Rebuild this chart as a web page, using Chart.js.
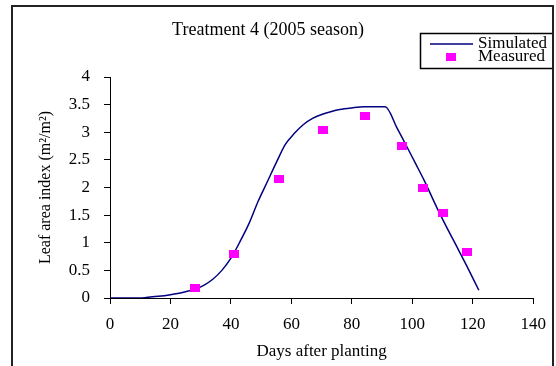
<!DOCTYPE html>
<html>
<head>
<meta charset="utf-8">
<script src="https://cdn.jsdelivr.net/npm/chart.js@4.4.1/dist/chart.umd.min.js"></script>
<style>
	html, body { margin: 0; padding: 0; background: #fff; }
	#wrap { width: 556px; height: 366px; }
</style>
</head>
<body>
<div id="wrap"><canvas id="lai-chart" width="556" height="366"></canvas></div>
<script>
// Simulated leaf area index, day after planting vs value
const simDays = [0, 10, 12, 16, 20, 24, 28, 31, 34, 37, 40, 43, 46, 49, 52, 55, 58, 61, 64, 67, 70, 73, 76, 80, 84, 91, 95, 98, 101, 104, 108, 111, 115, 118, 122];
const simLai = [0, 0, 0.01, 0.03, 0.06, 0.1, 0.16, 0.23, 0.34, 0.5, 0.72, 1.02, 1.35, 1.75, 2.1, 2.45, 2.78, 2.98, 3.14, 3.25, 3.32, 3.37, 3.41, 3.44, 3.46, 3.46, 3.07, 2.76, 2.44, 2.12, 1.65, 1.32, 0.9, 0.58, 0.14];

// Field measurements
const measDays = [28, 41, 56, 70.5, 84.5, 96.5, 103.5, 110, 118];
const measLai = [0.18, 0.8, 2.15, 3.04, 3.29, 2.75, 1.99, 1.54, 0.83];

const xTicks = [0, 20, 40, 60, 80, 100, 120, 140];
const yTicks = [0, 0.5, 1, 1.5, 2, 2.5, 3, 3.5, 4];

const titleText = 'Treatment 4 (2005 season)';
const xTitle = 'Days after planting';
const yTitle = 'Leaf area index (m\u00b2/m\u00b2)';
const legendLabels = ['Simulated', 'Measured'];

const SERIF = '"Liberation Serif", "Times New Roman", serif';
const LINE_COLOR = '#000080';
const MARK_COLOR = '#ff00ff';

// Slightly wide square marker used for measured points
function makeMarker() {
	const c = document.createElement('canvas');
	c.width = 10;
	c.height = 8;
	const g = c.getContext('2d');
	g.fillStyle = MARK_COLOR;
	g.fillRect(0, 0, 10, 8);
	return c;
}
const marker = makeMarker();

const toPoints = (xs, ys) => xs.map((x, i) => ({ x, y: ys[i] }));

// Frame, title and legend box
const decorPlugin = {
	id: 'decor',
	afterDraw(chart) {
		const ctx = chart.ctx;
		ctx.save();

		ctx.fillStyle = '#000';
		ctx.font = '18px ' + SERIF;
		ctx.textAlign = 'center';
		ctx.textBaseline = 'middle';
		ctx.fillText(titleText, 268, 30);

		// legend
		ctx.fillStyle = '#fff';
		ctx.fillRect(420, 33, 133, 35);
		ctx.strokeStyle = '#000';
		ctx.lineWidth = 1.5;
		ctx.beginPath();
		ctx.moveTo(553, 33.5);
		ctx.lineTo(420.5, 33.5);
		ctx.lineTo(420.5, 68.5);
		ctx.lineTo(553, 68.5);
		ctx.stroke();

		ctx.strokeStyle = LINE_COLOR;
		ctx.lineWidth = 1.5;
		ctx.beginPath();
		ctx.moveTo(430, 44);
		ctx.lineTo(473, 44);
		ctx.stroke();
		ctx.drawImage(marker, 446, 53);

		ctx.fillStyle = '#000';
		ctx.font = '17px ' + SERIF;
		ctx.textAlign = 'left';
		ctx.textBaseline = 'middle';
		ctx.fillText(legendLabels[0], 478, 44);
		ctx.fillText(legendLabels[1], 478, 57);

		// outer frame
		ctx.strokeStyle = '#222';
		ctx.lineWidth = 2;
		ctx.beginPath();
		ctx.moveTo(12, 366);
		ctx.lineTo(12, 6);
		ctx.lineTo(553, 6);
		ctx.lineTo(553, 366);
		ctx.stroke();

		ctx.restore();
	}
};

const ctx = document.getElementById('lai-chart').getContext('2d');

new Chart(ctx, {
	type: 'scatter',
	data: {
		datasets: [
			{
				label: legendLabels[0],
				data: toPoints(simDays, simLai),
				showLine: true,
				borderColor: LINE_COLOR,
				borderWidth: 1.5,
				pointRadius: 0,
				cubicInterpolationMode: 'monotone',
				order: 2
			},
			{
				label: legendLabels[1],
				data: toPoints(measDays, measLai),
				pointStyle: marker,
				pointRadius: 5,
				order: 1
			}
		]
	},
	options: {
		responsive: false,
		animation: false,
		devicePixelRatio: 1,
		layout: {
			padding: { top: 77, left: 12, right: 19, bottom: 0 }
		},
		plugins: {
			legend: { display: false },
			title: { display: false },
			tooltip: { enabled: false }
		},
		scales: {
			x: {
				type: 'linear',
				min: 0,
				max: 140,
				afterBuildTicks(scale) {
					scale.ticks = xTicks.map((v) => ({ value: v }));
				},
				afterFit(scale) {
					scale.height = 68;
				},
				border: { display: true, color: '#000', width: 1 },
				grid: {
					drawOnChartArea: false,
					drawTicks: true,
					tickLength: 6,
					color: '#000'
				},
				ticks: {
					color: '#000',
					padding: 10,
					maxRotation: 0,
					callback: (v) => String(v),
					font: { family: SERIF, size: 17 }
				},
				title: {
					display: true,
					text: xTitle,
					color: '#000',
					padding: { top: 0, bottom: 4 },
					font: { family: SERIF, size: 17 }
				}
			},
			y: {
				type: 'linear',
				min: 0,
				max: 4,
				afterBuildTicks(scale) {
					scale.ticks = yTicks.map((v) => ({ value: v }));
				},
				afterFit(scale) {
					scale.width = 98;
				},
				border: { display: true, color: '#000', width: 1 },
				grid: {
					drawOnChartArea: false,
					drawTicks: true,
					tickLength: 6,
					color: '#000'
				},
				ticks: {
					color: '#000',
					padding: 14,
					callback: (v) => String(v),
					font: { family: SERIF, size: 17 }
				},
				title: {
					display: true,
					text: yTitle,
					color: '#000',
					padding: { top: 24, bottom: 0 },
					font: { family: SERIF, size: 16 }
				}
			}
		}
	},
	plugins: [decorPlugin]
});
</script>
</body>
</html>
